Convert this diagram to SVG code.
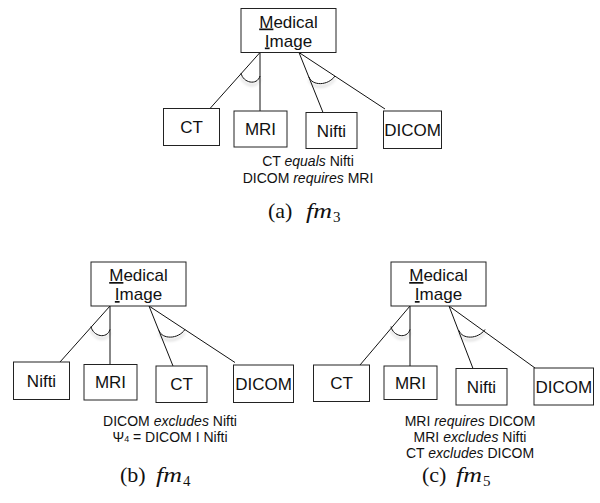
<svg xmlns="http://www.w3.org/2000/svg" width="600" height="503" viewBox="0 0 600 503">
<defs>
<filter id="sh" x="-40%" y="-40%" width="180%" height="220%">
<feGaussianBlur in="SourceAlpha" stdDeviation="1.6" result="b"/>
<feOffset in="b" dy="2.5" result="o"/>
<feComponentTransfer in="o" result="s"><feFuncA type="linear" slope="0.35"/></feComponentTransfer>
<feMerge><feMergeNode in="s"/><feMergeNode in="SourceGraphic"/></feMerge>
</filter>
</defs>
<style>
.box{fill:#fff;stroke:#222;stroke-width:1}
.lbl{font-family:"Liberation Sans",Arial,sans-serif;font-size:17px;fill:#111;text-anchor:middle}
.cst{font-family:"Liberation Sans",Arial,sans-serif;font-size:14px;fill:#111;text-anchor:middle}
.ln{stroke:#111;stroke-width:1;fill:none}
.arc{stroke:#111;stroke-width:1;fill:none;filter:url(#sh)}
.cap{font-family:"Liberation Serif","Times New Roman",serif;font-size:22px;fill:#111}
.it{font-style:italic}
.sub{font-size:15px}
.u{text-decoration:underline}
</style>
<rect width="600" height="503" fill="#fff"/>

<!-- Diagram (a) -->
<g id="conn-a">
<path class="ln" d="M260,52.5 L210,108.5 M260,52.5 L260,111 M299,52.5 L323,112.5 M299,52.5 L385,109"/>
<path class="arc" d="M241,73 C243,83 257,86 260,76"/>
<path class="arc" d="M309,77 C312,86 328,86 335,76"/>
</g>
<g id="a-root"><rect class="box" x="241" y="8.5" width="95" height="44"/>
<text class="lbl" x="288.5" y="27.5"><tspan class="u">M</tspan>edical</text>
<text class="lbl" x="288.5" y="46.5"><tspan class="u">I</tspan>mage</text></g>
<g id="a-ct"><rect class="box" x="163.5" y="108.5" width="56" height="37"/><text class="lbl" x="191.5" y="133">CT</text></g>
<g id="a-mri"><rect class="box" x="234" y="111" width="53" height="36"/><text class="lbl" x="260.5" y="135">MRI</text></g>
<g id="a-nifti"><rect class="box" x="306" y="112.5" width="51" height="36"/><text class="lbl" x="331.5" y="136.8">Nifti</text></g>
<g id="a-dicom"><rect class="box" x="383.5" y="111" width="58" height="37.5"/><text class="lbl" x="412.5" y="136">DICOM</text></g>
<g id="a-constraints">
<text class="cst" x="308" y="166">CT <tspan class="it">equals</tspan> Nifti</text>
<text class="cst" x="308" y="182.7">DICOM <tspan class="it">requires</tspan> MRI</text>
</g>
<g id="a-caption"><text class="cap" x="268" y="217.5">(a)</text><text class="cap it" x="306" y="217.5" textLength="26" lengthAdjust="spacingAndGlyphs">fm</text><text class="cap sub" x="333" y="221.5">3</text></g>

<!-- Diagram (b) -->
<g id="conn-b">
<path class="ln" d="M110,306 L60,362 M110,306 L110,364.5 M149,306 L173,366 M149,306 L235,362.5"/>
<path class="arc" d="M91,326.5 C93,336.5 107,339.5 110,329.5"/>
<path class="arc" d="M159,330.5 C162,339.5 178,339.5 185,329.5"/>
</g>
<g id="b-root"><rect class="box" x="91" y="262" width="95" height="44"/>
<text class="lbl" x="138.5" y="281"><tspan class="u">M</tspan>edical</text>
<text class="lbl" x="138.5" y="300"><tspan class="u">I</tspan>mage</text></g>
<g id="b-nifti"><rect class="box" x="13.5" y="362" width="56" height="37.5"/><text class="lbl" x="41.5" y="386.8">Nifti</text></g>
<g id="b-mri"><rect class="box" x="84" y="364.5" width="53" height="35.5"/><text class="lbl" x="110.5" y="388.3">MRI</text></g>
<g id="b-ct"><rect class="box" x="156" y="366" width="51" height="36.5"/><text class="lbl" x="181.5" y="390.3">CT</text></g>
<g id="b-dicom"><rect class="box" x="233.5" y="365" width="60" height="37.5"/><text class="lbl" x="263.5" y="389.8">DICOM</text></g>
<g id="b-constraints">
<text class="cst" x="170" y="425.5">DICOM <tspan class="it">excludes</tspan> Nifti</text>
<text class="cst" x="170" y="441.7">Ψ<tspan font-size="9">4</tspan> = DICOM I Nifti</text>
</g>
<g id="b-caption"><text class="cap" x="120" y="481.5">(b)</text><text class="cap it" x="156" y="481.5" textLength="26" lengthAdjust="spacingAndGlyphs">fm</text><text class="cap sub" x="183" y="485.5">4</text></g>

<!-- Diagram (c) -->
<g id="conn-c">
<path class="ln" d="M410,306 L360,365 M410,306 L410,366 M449,306 L473,368.5 M449,306 L535,368"/>
<path class="arc" d="M391,326.5 C393,336.5 407,339.5 410,329.5"/>
<path class="arc" d="M459,330.5 C462,339.5 478,339.5 485,329.5"/>
</g>
<g id="c-root"><rect class="box" x="391" y="262" width="95" height="44"/>
<text class="lbl" x="438.5" y="281"><tspan class="u">M</tspan>edical</text>
<text class="lbl" x="438.5" y="300"><tspan class="u">I</tspan>mage</text></g>
<g id="c-ct"><rect class="box" x="313.5" y="365" width="56" height="36.5"/><text class="lbl" x="341.5" y="389.3">CT</text></g>
<g id="c-mri"><rect class="box" x="384" y="366" width="53" height="33.5"/><text class="lbl" x="410.5" y="388.8">MRI</text></g>
<g id="c-nifti"><rect class="box" x="456" y="368.5" width="51" height="36.5"/><text class="lbl" x="481.5" y="392.8">Nifti</text></g>
<g id="c-dicom"><rect class="box" x="534" y="368" width="59.5" height="37"/><text class="lbl" x="563.75" y="392.5">DICOM</text></g>
<g id="c-constraints">
<text class="cst" x="470" y="425.5">MRI <tspan class="it">requires</tspan> DICOM</text>
<text class="cst" x="470" y="441.7">MRI <tspan class="it">excludes</tspan> Nifti</text>
<text class="cst" x="470" y="457.5">CT <tspan class="it">excludes</tspan> DICOM</text>
</g>
<g id="c-caption"><text class="cap" x="422" y="482">(c)</text><text class="cap it" x="456" y="482" textLength="26" lengthAdjust="spacingAndGlyphs">fm</text><text class="cap sub" x="483" y="486">5</text></g>
</svg>
